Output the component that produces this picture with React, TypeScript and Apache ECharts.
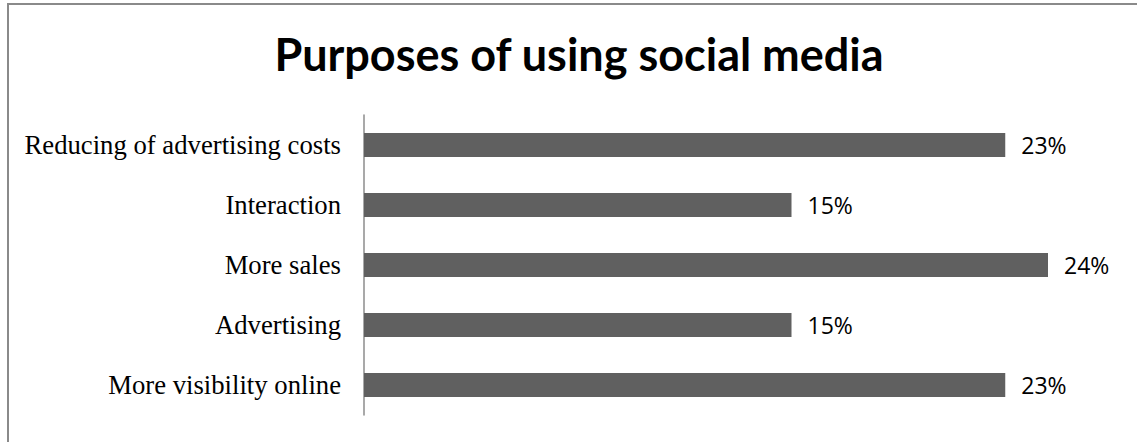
import React, { useEffect, useRef } from "react";
import * as echarts from "echarts";

const categories = [
  "Reducing of advertising costs",
  "Interaction",
  "More sales",
  "Advertising",
  "More visibility online",
];
const values = [22.5, 15, 24, 15, 22.5];
const titleText = "Purposes of using social media";

export default function App() {
  const ref = useRef<HTMLDivElement>(null);
  useEffect(() => {
    if (!ref.current) return;
    const chart = echarts.init(ref.current, undefined, { renderer: "svg" });
    chart.setOption({
      animation: false,
      backgroundColor: "#ffffff",
      title: {
        text: titleText,
        left: 574,
        textAlign: "center",
        top: 26,
        textStyle: {
          fontFamily: "Lato",
          fontWeight: "bold",
          fontSize: 45,
          color: "#000000",
        },
      },
      graphic: [
        {
          type: "polyline",
          shape: { points: [[8, 442], [8, 4], [1137, 4]] },
          style: { stroke: "#8a8a8a", lineWidth: 2, fill: "none" },
          silent: true,
        },
      ],
      grid: { left: 364, top: 115, bottom: 27, right: 60.5 },
      xAxis: {
        type: "value",
        min: 0,
        max: 25,
        show: false,
        splitLine: { show: false },
      },
      yAxis: {
        type: "category",
        data: categories,
        inverse: true,
        axisLine: { show: true, lineStyle: { color: "#8c8c8c", width: 1.5 } },
        axisTick: { show: false },
        axisLabel: {
          margin: 23,
          fontFamily: "Liberation Serif",
          fontSize: 26.7,
          color: "#000000",
        },
      },
      series: [
        {
          type: "bar",
          data: values,
          barWidth: 24,
          itemStyle: { color: "#606060" },
          label: {
            show: true,
            position: "right",
            distance: 16,
            fontFamily: "Open Sans",
            fontSize: 23,
            color: "#000000",
            formatter: (p: any) => Math.round(p.value) + "%",
          },
        },
      ],
    });
    return () => chart.dispose();
  }, []);
  return (
    <div
      ref={ref}
      style={{ position: "fixed", left: 0, top: 0, width: 1137, height: 442 }}
    />
  );
}
